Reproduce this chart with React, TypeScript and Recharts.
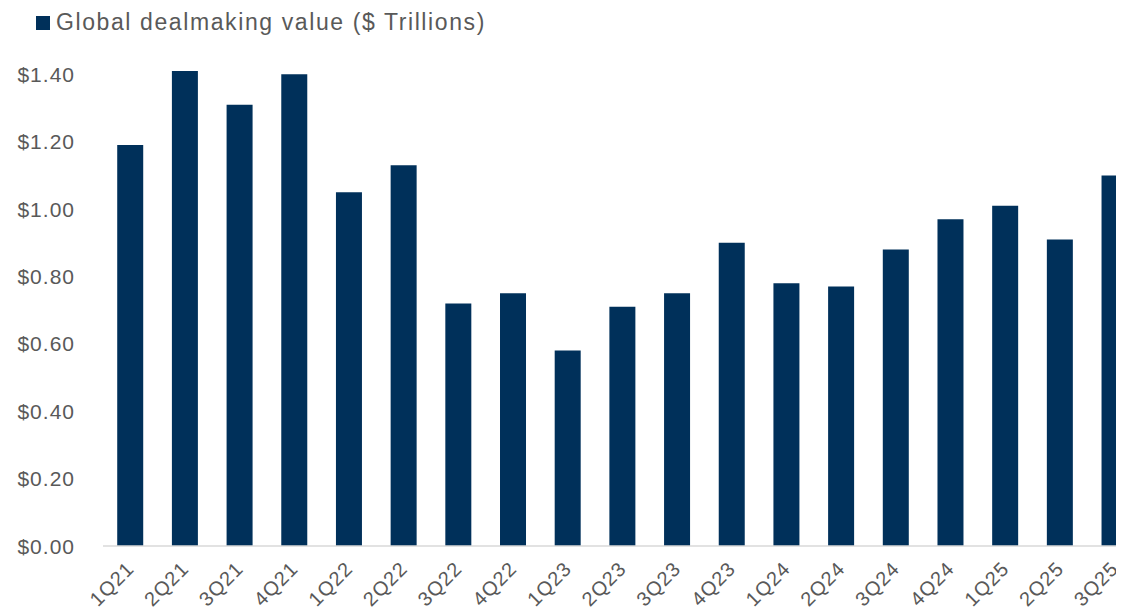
import React from "react";
import { BarChart, Bar, XAxis, YAxis } from "recharts";

const quarters = ["1Q21","2Q21","3Q21","4Q21","1Q22","2Q22","3Q22","4Q22","1Q23","2Q23","3Q23","4Q23","1Q24","2Q24","3Q24","4Q24","1Q25","2Q25","3Q25"];
const dealValue = [1.19,1.41,1.31,1.40,1.05,1.13,0.72,0.75,0.58,0.71,0.75,0.90,0.78,0.77,0.88,0.97,1.01,0.91,1.10];
const yTicks = [0, 0.2, 0.4, 0.6, 0.8, 1.0, 1.2, 1.4];
const seriesName = "Global dealmaking value ($ Trillions)";

const data = quarters.map((q, i) => ({ q, v: dealValue[i] }));

const FONT = "'Liberation Sans', Arial, sans-serif";
const BAR = "#00305a";
const TXT = "#595959";

const XTick = (props: any) => {
  const { x, y, payload } = props;
  const ax = x + 5;
  const ay = y + 16;
  return (
    <text
      x={ax}
      y={ay}
      transform={`rotate(-45, ${ax}, ${ay})`}
      textAnchor="end"
      fill={TXT}
      fontSize={20}
      letterSpacing={1}
      fontFamily={FONT}
    >
      {payload.value}
    </text>
  );
};

const YTick = (props: any) => {
  const { x, y, payload } = props;
  return (
    <text
      x={x}
      y={y}
      dy="0.36em"
      textAnchor="end"
      fill={TXT}
      fontSize={21}
      letterSpacing={1}
      fontFamily={FONT}
    >
      {`$${Number(payload.value).toFixed(2)}`}
    </text>
  );
};

export default function App() {
  return (
    <div style={{ margin: -8, width: 1124, height: 615, overflow: "hidden", position: "relative", background: "#fff" }}>
      <div style={{ position: "absolute", left: 0, top: 0, width: 4, height: 615, background: "#eef2f5" }} />
      <div style={{ position: "absolute", left: 36, top: 9, display: "flex", alignItems: "center", fontFamily: FONT, fontSize: 23, letterSpacing: 1.6, color: TXT, whiteSpace: "nowrap" }}>
        <span style={{ display: "inline-block", width: 14, height: 14, background: BAR, marginRight: 6 }} />
        <span>{seriesName}</span>
      </div>
      <BarChart
        width={1150}
        height={615}
        data={data}
        margin={{ top: 71, right: 8, left: 0, bottom: 0 }}
        barCategoryGap="26%"
      >
        <XAxis
          dataKey="q"
          height={69}
          interval={0}
          tickLine={false}
          axisLine={{ stroke: "#d9d9d9", strokeWidth: 1.5 }}
          tick={<XTick />}
        />
        <YAxis
          width={103}
          domain={[0, 1.4]}
          ticks={yTicks}
          axisLine={false}
          tickLine={false}
          tickSize={0}
          tickMargin={28}
          tick={<YTick />}
        />
        <Bar dataKey="v" name={seriesName} fill={BAR} isAnimationActive={false} />
      </BarChart>
    </div>
  );
}
